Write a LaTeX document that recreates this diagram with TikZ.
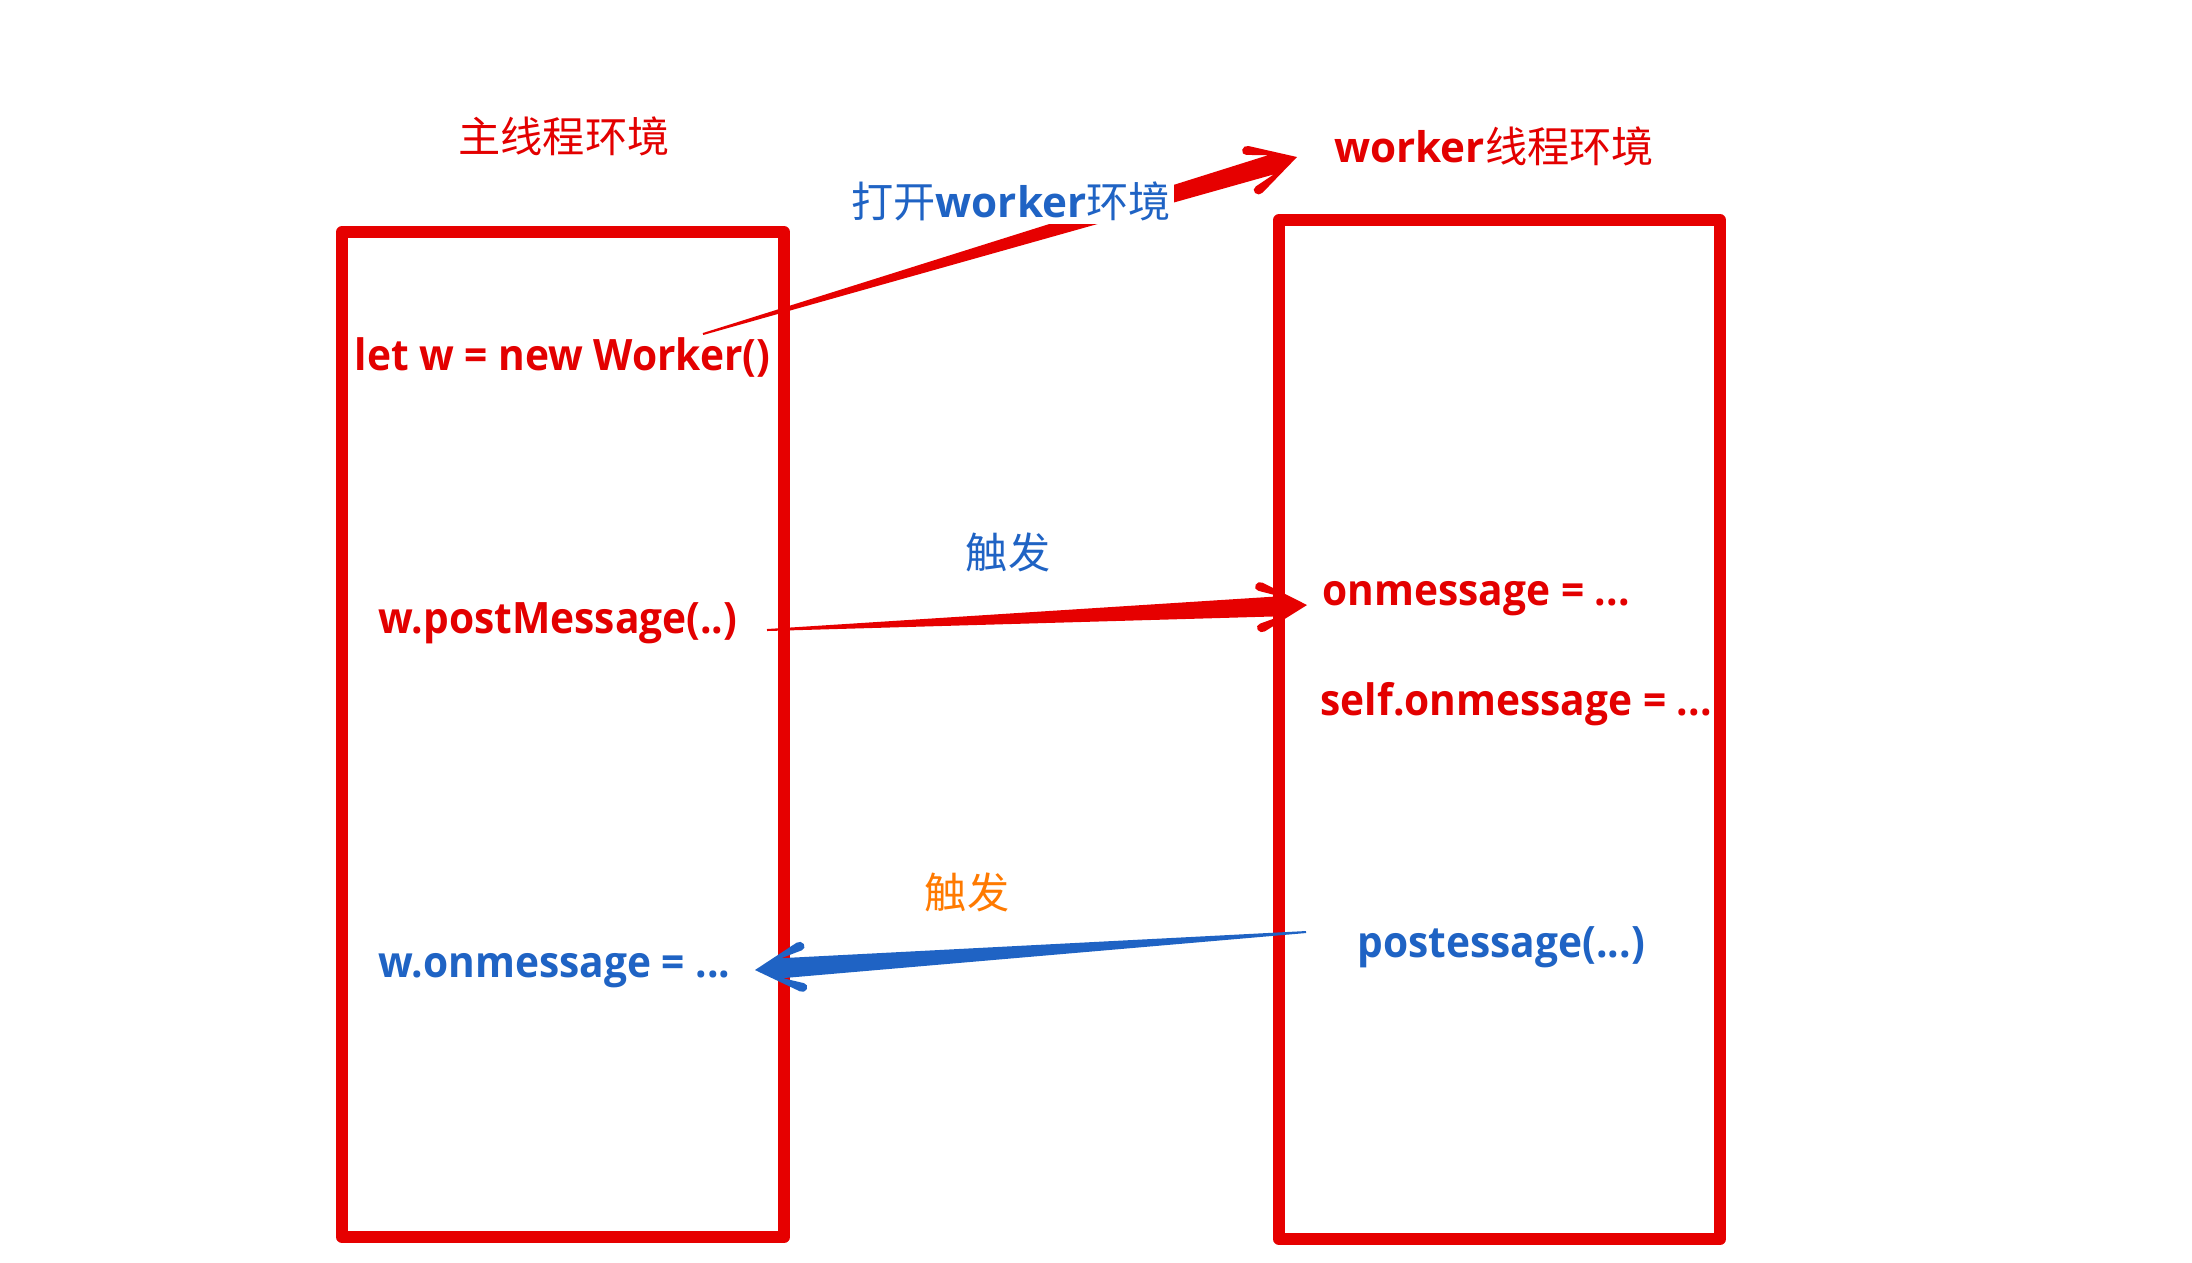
\documentclass[tikz,border=0pt]{standalone}
\usepackage{fontspec}
\setmainfont{Open Sans}
\newfontfamily\codefont{Open Sans}[FakeStretch=0.94]
\newfontfamily\cjk{Noto Sans CJK SC}
\usetikzlibrary{calc}
\definecolor{boxred}{HTML}{E60000}
\definecolor{txtred}{HTML}{E30000}
\definecolor{txtblue}{HTML}{1F63C4}
\definecolor{txtorange}{HTML}{FF7A00}

% tapered arrow: #1 start, #2 tip, #3 colour
\newcommand{\fatarrow}[3]{%
  \fill[#3]
    (#2) [rounded corners=1.5pt]
    -- ($(#2)!0.48cm!(#1)!0.27cm!90:(#1)$)
    -- ($(#2)!0.53cm!(#1)!0.18cm!90:(#1)$) [sharp corners]
    -- ($(#2)!0.27cm!(#1)!0.10cm!90:(#1)$)
    -- ($(#1)!0.01cm!-90:(#2)$)
    -- ($(#1)!0.01cm!90:(#2)$)
    -- ($(#2)!0.27cm!(#1)!0.10cm!-90:(#1)$) [rounded corners=1.5pt]
    -- ($(#2)!0.53cm!(#1)!0.18cm!-90:(#1)$)
    -- ($(#2)!0.48cm!(#1)!0.27cm!-90:(#1)$) [sharp corners]
    -- cycle;}

\begin{document}
\begin{tikzpicture}[x=0.01cm,y=-0.01cm,
    codetext/.style={font=\fontsize{12.3pt}{14pt}\selectfont\codefont\bfseries, inner sep=0pt, anchor=base west},
    envtext/.style={font=\fontsize{12pt}{14pt}\selectfont, inner sep=0pt},
    threadbox/.style={draw=boxred, line width=0.12cm, line join=round}]
  \useasboundingbox[fill=white] (0,0) rectangle (2192,1262);

  % the two threads
  \draw[threadbox] (342,232) rectangle (784,1237);
  \draw[threadbox] (1279,220) rectangle (1720,1239);

  % arrows
  \coordinate (openfrom) at (703,334);
  \coordinate (opento) at (1297,157);
  \coordinate (postfrom) at (767,630);
  \coordinate (postto) at (1307,605);
  \coordinate (backfrom) at (1306,932);
  \coordinate (backto) at (755,970);
  \fatarrow{openfrom}{opento}{boxred}
  \fatarrow{postfrom}{postto}{boxred}
  \fatarrow{backfrom}{backto}{txtblue}

  % labels
  \node[envtext, text=txtred] (mainenv) at (564,136) {\cjk 主线程环境};
  \node[envtext, text=txtred] (workerenv) at (1494,146) {\textbf{worker}{\cjk 线程环境}};
  \node[envtext, text=txtblue, fill=white, inner sep=1pt] (openenv) at (1011,201) {{\cjk 打开}\textbf{worker}{\cjk 环境}};
  \node[envtext, text=txtblue] (trigpost) at (1008,552) {\cjk 触发};
  \node[envtext, text=txtorange] (trigback) at (967,892) {\cjk 触发};

  \node[codetext, text=txtred] (letw) at (354,370) {let w = new Worker()};
  \node[codetext, text=txtred] (postmsg) at (378,633) {w.postMessage(..)};
  \node[codetext, text=txtblue] (wonmsg) at (378,977) {w.onmessage = ...};
  \node[codetext, text=txtred] (onmsg) at (1322,605) {onmessage = ...};
  \node[codetext, text=txtred] (selfmsg) at (1320,715) {self.onmessage = ...};
  \node[codetext, text=txtblue] (postback) at (1357,957) {postessage(...)};
\end{tikzpicture}
\end{document}
